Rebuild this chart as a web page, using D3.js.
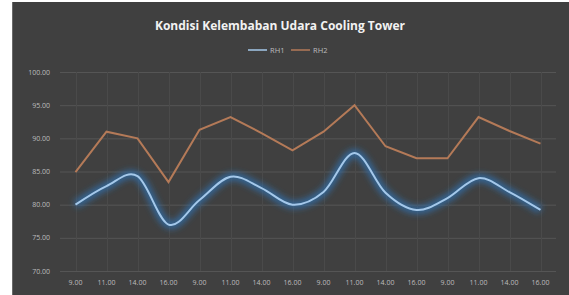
<!DOCTYPE html>
<html>
<head>
<meta charset="utf-8">
<script src="https://cdn.jsdelivr.net/npm/d3@7"></script>
<style>
  body { margin: 0; background: #fff; }
  svg { display: block; }
</style>
</head>
<body>
<svg id="chart" width="569" height="295"></svg>
<script>
// data
const categories = ["9.00", "11.00", "14.00", "16.00", "9.00", "11.00", "14.00", "16.00",
                    "9.00", "11.00", "14.00", "16.00", "9.00", "11.00", "14.00", "16.00"];
const rh1 = [80.0, 82.8, 84.3, 77.0, 80.7, 84.2, 82.5, 80.0, 81.9, 87.8, 81.8, 79.2, 81.0, 84.0, 81.9, 79.2];
const rh2 = [84.9, 91.0, 90.0, 83.4, 91.3, 93.2, 90.8, 88.2, 91.0, 95.0, 88.8, 87.0, 87.0, 93.2, 91.1, 89.2];
const yTicks = [70, 75, 80, 85, 90, 95, 100];
const seriesNames = ["RH1", "RH2"];

const svg = d3.select("#chart");
const W = 569, H = 295;
const font = "'Open Sans', 'Liberation Sans', sans-serif";

// chart background
svg.append("rect")
  .attr("x", 12).attr("y", 2)
  .attr("width", W - 12).attr("height", H - 2)
  .attr("fill", "#404040");
svg.append("line")
  .attr("x1", 12.5).attr("x2", 12.5).attr("y1", 2).attr("y2", H)
  .attr("stroke", "#6a6a6a");

const x = d3.scaleBand().domain(d3.range(categories.length)).range([60, 556]);
const y = d3.scaleLinear().domain([70, 100]).range([271, 72]);
const cx = i => x(i) + x.bandwidth() / 2;

// glow filter for the blue line
const defs = svg.append("defs");
const glow = defs.append("filter").attr("id", "glow")
  .attr("x", "-10%").attr("y", "-30%").attr("width", "120%").attr("height", "160%");
glow.append("feGaussianBlur").attr("stdDeviation", 3);

// gridlines
svg.append("g")
  .selectAll("line")
  .data(yTicks)
  .enter().append("line")
  .attr("x1", 60).attr("x2", 556)
  .attr("y1", d => y(d) + 0.5).attr("y2", d => y(d) + 0.5)
  .attr("stroke", "#555555");

svg.append("g")
  .selectAll("line")
  .data(d3.range(categories.length))
  .enter().append("line")
  .attr("x1", d => Math.round(cx(d)) + 0.5).attr("x2", d => Math.round(cx(d)) + 0.5)
  .attr("y1", 72).attr("y2", 271)
  .attr("stroke", "#4a4a4a");

// y axis labels
svg.append("g")
  .selectAll("text")
  .data(yTicks)
  .enter().append("text")
  .attr("x", 50).attr("y", d => y(d) + 2.5)
  .attr("text-anchor", "end")
  .attr("font-family", font).attr("font-size", 7)
  .attr("fill", "#bdbdbd")
  .text(d => d3.format(".2f")(d));

// x axis labels
svg.append("g")
  .selectAll("text")
  .data(categories)
  .enter().append("text")
  .attr("x", (d, i) => cx(i)).attr("y", 285)
  .attr("text-anchor", "middle")
  .attr("font-family", font).attr("font-size", 7)
  .attr("fill", "#bdbdbd")
  .text(d => d);

// lines
const smooth = d3.line()
  .x((d, i) => cx(i)).y(d => y(d))
  .curve(d3.curveCatmullRom.alpha(0));
const straight = d3.line()
  .x((d, i) => cx(i)).y(d => y(d));

svg.append("path")
  .attr("d", straight(rh2))
  .attr("fill", "none")
  .attr("stroke", "#b47a58")
  .attr("stroke-width", 2);

svg.append("path")
  .attr("d", smooth(rh1))
  .attr("fill", "none")
  .attr("stroke", "#2f6fae")
  .attr("stroke-opacity", 0.8)
  .attr("stroke-width", 8)
  .attr("filter", "url(#glow)");
svg.append("path")
  .attr("d", smooth(rh1))
  .attr("fill", "none")
  .attr("stroke", "#a4c8ea")
  .attr("stroke-width", 2);

// title
svg.append("text")
  .attr("x", 280).attr("y", 30)
  .attr("text-anchor", "middle")
  .attr("font-family", font).attr("font-size", 12).attr("font-weight", "bold")
  .attr("fill", "#f2f2f2")
  .text("Kondisi Kelembaban Udara Cooling Tower");

// legend
const legendColors = ["#a4c8ea", "#b47a58"];
const legend = svg.append("g").attr("transform", "translate(248,50)");
const item = legend.selectAll("g")
  .data(seriesNames)
  .enter().append("g")
  .attr("transform", (d, i) => `translate(${i * 43},0)`);
item.append("line")
  .attr("x1", 0).attr("x2", 19)
  .attr("stroke", (d, i) => legendColors[i])
  .attr("stroke-width", 1.5);
item.append("text")
  .attr("x", 22).attr("y", 2.8)
  .attr("font-family", font).attr("font-size", 7.5)
  .attr("fill", "#bdbdbd")
  .text(d => d);
</script>
</body>
</html>
